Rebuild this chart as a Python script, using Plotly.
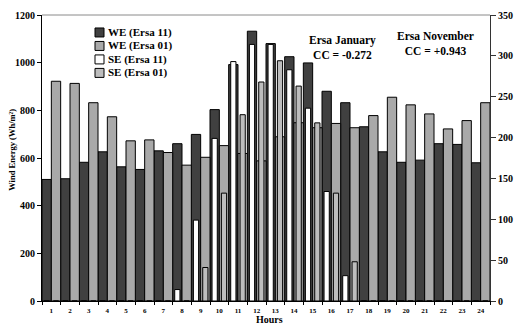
import plotly.graph_objects as go

hours = [str(h) for h in range(1, 25)]
we_ersa11 = [510, 513, 582, 626, 563, 552, 630, 660, 699, 803, 992, 1132,
             1080, 1025, 999, 880, 832, 731, 626, 582, 591, 660, 657, 580]
we_ersa01 = [922, 913, 832, 773, 672, 676, 623, 570, 603, 652, 619, 588,
             689, 748, 727, 745, 727, 778, 855, 823, 785, 722, 757, 832]
se_ersa11 = [0, 0, 0, 0, 0, 0, 0, 14, 99, 199, 293, 314,
             314, 283, 236, 134, 31, 0, 0, 0, 0, 0, 0, 0]
se_ersa01 = [0, 0, 0, 0, 0, 0, 0, 0, 41, 132, 228, 268,
             294, 263, 218, 132, 48, 0, 0, 0, 0, 0, 0, 0]
left_ticks = [0, 200, 400, 600, 800, 1000, 1200]
right_ticks = [0, 50, 100, 150, 200, 250, 300, 350]

names = ["WE (Ersa 11)", "WE (Ersa 01)", "SE (Ersa 11)", "SE (Ersa 01)"]
colors = ["#404040", "#a9a9a9", "#ffffff", "#bdbdbd"]

SERIF = "Liberation Serif"
W, H = 516, 325
ML, MR, MT, MB = 42, 26, 15, 23.5
PW, PH = W - ML - MR, H - MT - MB


def px(x):
    return (x - ML) / PW


def py(y):
    return (H - MB - y) / PH


fig = go.Figure()
line = dict(color="#000000", width=1)
fig.add_trace(go.Bar(x=hours, y=we_ersa11, name=names[0], width=0.5, offset=-0.5,
                     marker=dict(color=colors[0], line=line), yaxis="y"))
fig.add_trace(go.Bar(x=hours, y=we_ersa01, name=names[1], width=0.5, offset=0.0,
                     marker=dict(color=colors[1], line=line), yaxis="y"))
fig.add_trace(go.Bar(x=hours, y=se_ersa11, name=names[2], width=0.28, offset=-0.39,
                     marker=dict(color=colors[2], line=line), yaxis="y2"))
fig.add_trace(go.Bar(x=hours, y=se_ersa01, name=names[3], width=0.28, offset=0.11,
                     marker=dict(color=colors[3], line=line), yaxis="y2"))

shapes = []
annotations = []
rows = [32.5, 46.0, 59.5, 73.0]
for i, (nm, col) in enumerate(zip(names, colors)):
    yc = rows[i]
    shapes.append(dict(type="rect", xref="paper", yref="paper",
                       x0=px(95), x1=px(104), y0=py(yc + 4.5), y1=py(yc - 4.5),
                       fillcolor=col, line=dict(color="#000000", width=1)))
    annotations.append(dict(text=nm, xref="paper", yref="paper", x=px(106), y=py(yc),
                            xanchor="left", yanchor="middle", showarrow=False,
                            font=dict(family=SERIF, size=11, color="#000000", weight="bold")))

annotations.append(dict(text="Ersa January<br>CC = -0.272", xref="paper", yref="paper",
                        x=px(342), y=py(48), xanchor="center", yanchor="middle",
                        showarrow=False,
                        font=dict(family=SERIF, size=11.5, color="#000000", weight="bold")))
annotations.append(dict(text="Ersa November<br>CC = +0.943", xref="paper", yref="paper",
                        x=px(435.5), y=py(44), xanchor="center", yanchor="middle",
                        showarrow=False,
                        font=dict(family=SERIF, size=11.5, color="#000000", weight="bold")))
annotations.append(dict(text="Hours", xref="paper", yref="paper",
                        x=px(269), y=py(320.5), xanchor="center", yanchor="middle",
                        showarrow=False,
                        font=dict(family=SERIF, size=10, color="#000000", weight="bold")))
annotations.append(dict(text="Wind Energy (Wh/m²)", xref="paper", yref="paper",
                        x=px(12), y=py(150), xanchor="center", yanchor="middle",
                        textangle=-90, showarrow=False,
                        font=dict(family=SERIF, size=8.5, color="#000000", weight="bold")))

# top border line
shapes.append(dict(type="line", xref="paper", yref="paper", x0=0, x1=1, y0=1, y1=1,
                   line=dict(color="#8a8a8a", width=1)))

fig.update_layout(
    width=W, height=H,
    margin=dict(l=ML, r=MR, t=MT, b=MB, pad=0),
    paper_bgcolor="#ffffff", plot_bgcolor="#ffffff",
    barmode="overlay",
    showlegend=False,
    shapes=shapes,
    annotations=annotations,
    xaxis=dict(type="category", tickson="boundaries", ticks="outside", ticklen=3,
               tickcolor="#000000", showline=True, linecolor="#000000", linewidth=1,
               showgrid=False, zeroline=False, ticklabelstandoff=3, automargin=False,
               tickfont=dict(family=SERIF, size=7, color="#000000", weight="bold")),
    yaxis=dict(range=[0, 1200], tickvals=left_ticks, ticks="outside", ticklen=4,
               tickcolor="#000000", showline=True, linecolor="#000000", linewidth=1,
               showgrid=False, zeroline=False, automargin=False,
               tickfont=dict(family=SERIF, size=10, color="#000000", weight="bold")),
    yaxis2=dict(range=[0, 350], tickvals=right_ticks, overlaying="y", side="right",
                ticks="outside", ticklen=5, tickcolor="#333333", showline=True,
                linecolor="#333333", linewidth=1, showgrid=False, zeroline=False,
                automargin=False,
                tickfont=dict(family=SERIF, size=10, color="#000000", weight="bold")),
)

fig.write_html("out.html")
